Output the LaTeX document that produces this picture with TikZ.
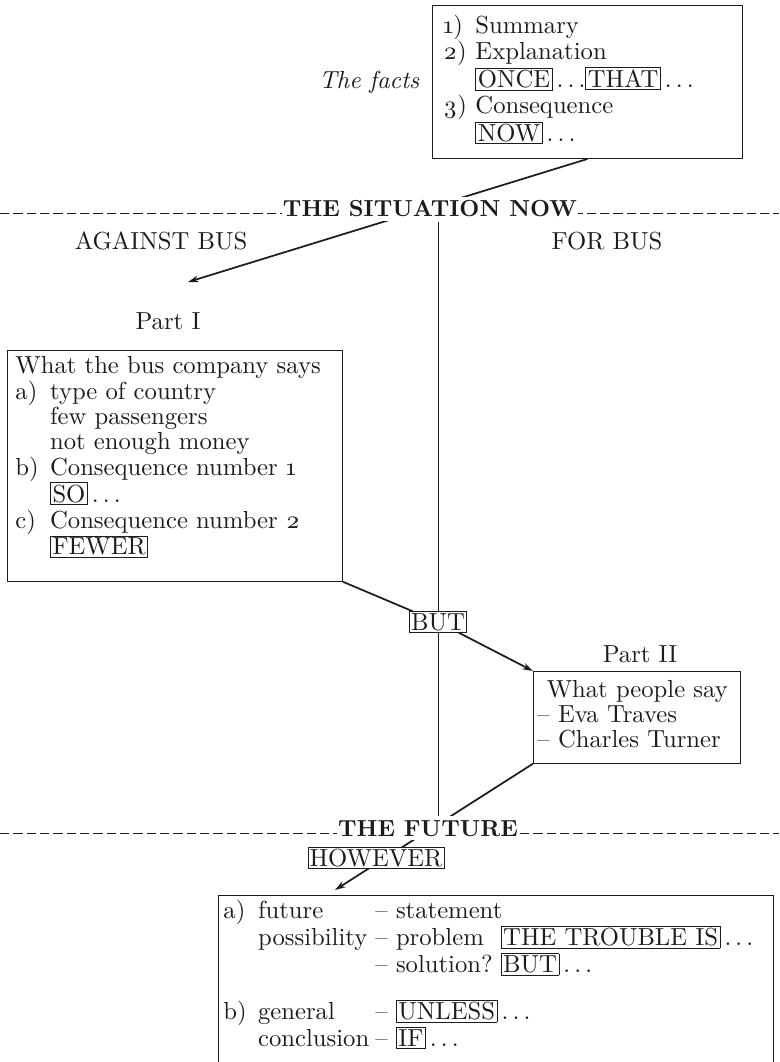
\documentclass[tikz,border=0pt]{standalone}
\usepackage{fontspec}
\setmainfont{lmroman10-regular.otf}[BoldFont=lmroman10-bold.otf, ItalicFont=lmroman10-italic.otf]
\usetikzlibrary{arrows.meta,backgrounds}
\definecolor{ink}{RGB}{28,28,28}
\setlength\tabcolsep{0pt}
\newcommand\bodyfont{\fontsize{18.5}{18.6}\selectfont}
\newcommand\kw[1]{{\setlength\fboxsep{1.2pt}\setlength\fboxrule{0.6pt}\fbox{#1}}}
\newcommand\dotsx{\,.\,.\,.}
\newcommand\osn[1]{\oldstylenums{#1}}
\tikzset{
  every node/.style={font=\bodyfont, text=ink},
  tbox/.style={draw=ink, line width=0.7pt, anchor=north west, align=left},
  conn/.style={draw=ink, line width=1.3pt},
  arr/.style={conn, -{Stealth[length=8pt,width=5pt]}},
  heading/.style={font={\fontsize{17.4}{18}\selectfont\bfseries}, fill=white, inner xsep=1pt, inner ysep=3pt, anchor=base},
  kwnode/.style={draw=ink, line width=0.6pt, fill=white, inner sep=1.2pt},
  divider/.style={draw=ink, line width=0.6pt},
  dashline/.style={draw=ink, line width=0.6pt, dash pattern=on 7pt off 3pt},
  lab/.style={anchor=base}
}
\begin{document}
\begin{tikzpicture}[x=0.75pt,y=-0.75pt]
\useasboundingbox (0,0) rectangle (779,1062);

% top box: the facts
\node[tbox, inner xsep=8.25pt, inner ysep=7pt, text width=216pt, font=\fontsize{18.5}{19.5}\selectfont] (facts) at (432,5)
 {\noindent\begin{tabular}{@{}p{24pt}l@{}}
  \osn{1}) & Summary\\
  \osn{2}) & Explanation\\
   & \kw{ONCE}\dotsx\kw{THAT}\dotsx\\
  \osn{3}) & Consequence\\
   & \kw{NOW}\dotsx
 \end{tabular}};
\node[anchor=base east, font=\bodyfont\itshape] (factslab) at (424,89) {The facts};

% headings
\node[heading] (h1) at (430,217) {THE SITUATION NOW};
\node[heading] (h2) at (428,836) {THE FUTURE};

\node[lab] (against) at (161,250) {AGAINST BUS};
\node[lab] (forbus) at (607,250) {FOR BUS};

% Part I
\node[lab] (p1lab) at (168,329) {Part I};
\node[tbox, inner xsep=6pt, inner ysep=4.25pt, text width=239.25pt] (p1) at (7,350)
 {\noindent\begin{tabular}{@{}p{26pt}l@{}}
  \multicolumn{2}{@{}l@{}}{What the bus company says}\\
  a) & type of country\\
   & few passengers\\
   & not enough money\\
  b) & Consequence number \osn{1}\\
   & \kw{SO}\dotsx\\
  c) & Consequence number \osn{2}\\
   & \kw{FEWER}\\[10pt]
 \end{tabular}};

% BUT
\node[kwnode] (but) at (438,622) {BUT};

% Part II
\node[lab] (p2lab) at (640,662) {Part II};
\node[tbox, inner xsep=3pt, inner ysep=6.5pt, text width=149.25pt] (p2) at (533,671)
 {\noindent\begin{tabular}{@{}l@{}}
  \hspace*{7pt}What people say\\
  -- Eva Traves\\
  -- Charles Turner
 \end{tabular}};

% HOWEVER
\node[kwnode] (however) at (376,858) {HOWEVER};

% the future box
\node[tbox, inner xsep=3.75pt, inner ysep=3.5pt, text width=408.75pt] (fut) at (218,895)
 {\noindent\begin{tabular}{@{}p{26pt}p{88pt}p{94pt}l@{}}
  a) & future & \multicolumn{2}{@{}l@{}}{-- statement}\\
   & possibility & -- problem & \kw{THE TROUBLE IS}\dotsx\\
   & & -- solution? & \kw{BUT}\dotsx\\[15pt]
  b) & general & \multicolumn{2}{@{}l@{}}{-- \kw{UNLESS}\dotsx}\\
   & conclusion & \multicolumn{2}{@{}l@{}}{-- \kw{IF}\dotsx}\\[40pt]
 \end{tabular}};

\coordinate (a1end) at (188,282);
\coordinate (a2end) at (335,890);
\coordinate (d1l) at (0,213);
\coordinate (d1r) at (779,213);
\coordinate (d2l) at (0,833);
\coordinate (d2r) at (779,833);

\draw[conn] (p1.south east) -- (but);
\draw[arr] (but) -- (p2.north west);

\begin{pgfonlayer}{background}
  \fill[white] (0,0) rectangle (779,1062);
  \draw[dashline] (d1l) -- (d1r);
  \draw[dashline] (d2l) -- (d2r);
  \draw[divider] (h1.south -| but.center) -- (h2.north -| but.center);
  \draw[arr] (facts.south) -- (a1end);
  \draw[arr] (p2.south west) -- (a2end);
\end{pgfonlayer}
\end{tikzpicture}
\end{document}
